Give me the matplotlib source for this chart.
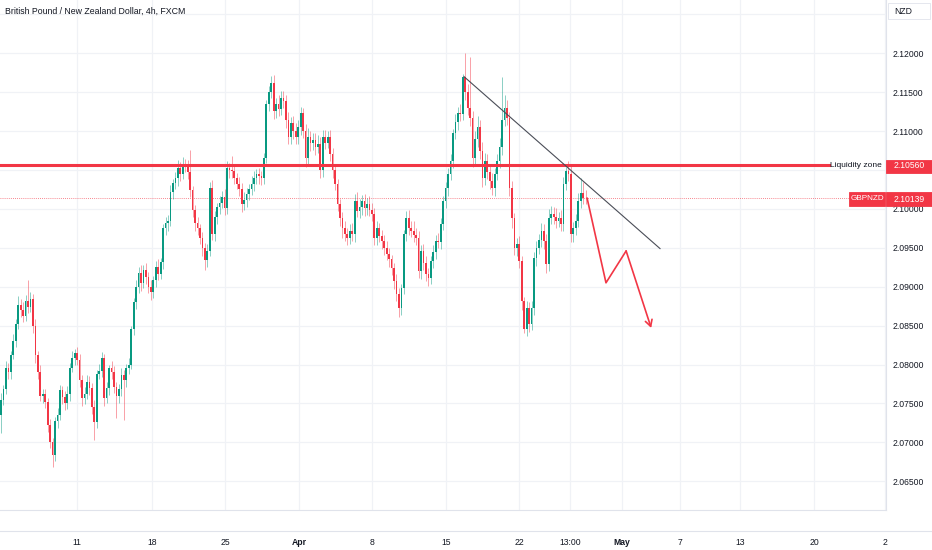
import matplotlib
matplotlib.use("Agg")
import matplotlib.pyplot as plt
from matplotlib.patches import Rectangle
from matplotlib.lines import Line2D

# ---------------- data (GBPNZD, 4h candles) ----------------
closes = [
    2.0755, 2.0768, 2.0795, 2.0790, 2.0812, 2.0830, 2.0852, 2.0876, 2.0870, 2.0862,
    2.0882, 2.0874, 2.0884, 2.0850, 2.0812, 2.0790, 2.0760, 2.0762, 2.0752, 2.0722,
    2.0700, 2.0684, 2.0728, 2.0735, 2.0767, 2.0758, 2.0750, 2.0762, 2.0796, 2.0808,
    2.0815, 2.0806, 2.0780, 2.0757, 2.0762, 2.0778, 2.0770, 2.0745, 2.0726, 2.0788,
    2.0792, 2.0808, 2.0757, 2.0770, 2.0795, 2.0790, 2.0771, 2.0760, 2.0768, 2.0787,
    2.0780, 2.0796, 2.0800, 2.0845, 2.0880, 2.0900, 2.0918, 2.0905, 2.0922, 2.0912,
    2.0900, 2.0893, 2.0908, 2.0925, 2.0916, 2.0932, 2.0975, 2.0982, 2.0985, 2.1022,
    2.1033, 2.1040, 2.1053, 2.1045, 2.1058, 2.1055, 2.1048, 2.1024, 2.0998, 2.0982,
    2.0975, 2.0963, 2.0950, 2.0934, 2.0946, 2.1027, 2.0968, 2.0990, 2.1002, 2.1008,
    2.1015, 2.1001, 2.1052, 2.1050, 2.1049, 2.1040, 2.1032, 2.1026, 2.1006, 2.1012,
    2.1019, 2.1025, 2.1032, 2.1040, 2.1045, 2.1042, 2.1040, 2.1066, 2.1135, 2.1150,
    2.1162, 2.1126, 2.1135, 2.1128, 2.1143, 2.1139, 2.1114, 2.1092, 2.1110, 2.1100,
    2.1092, 2.1105, 2.1123, 2.1100, 2.1066, 2.1092, 2.1085, 2.1088, 2.1080, 2.1084,
    2.1050, 2.1092, 2.1085, 2.1092, 2.1071, 2.1050, 2.1032, 2.1006, 2.0988, 2.0975,
    2.0968, 2.0963, 2.0972, 2.0968, 2.1010, 2.0997, 2.1003, 2.1010, 2.1001, 2.1006,
    2.0999, 2.0994, 2.0963, 2.0976, 2.0965, 2.0959, 2.0950, 2.0942, 2.0935, 2.0924,
    2.0907, 2.0890, 2.0872, 2.0898, 2.0968, 2.0988, 2.0976, 2.0972, 2.0966, 2.0963,
    2.0920, 2.0946, 2.0930, 2.0916, 2.0911, 2.0933, 2.0945, 2.0959, 2.0958, 2.0981,
    2.1010, 2.1027, 2.1045, 2.1062, 2.1097, 2.1112, 2.1123, 2.1122, 2.1169, 2.1150,
    2.1130, 2.1117, 2.1066, 2.1090, 2.1105, 2.1075, 2.1040, 2.1062, 2.1048, 2.1036,
    2.1027, 2.1045, 2.1062, 2.1079, 2.1114, 2.1130, 2.1117, 2.1027, 2.0988, 2.0950,
    2.0955, 2.0933, 2.0881, 2.0845, 2.0872, 2.0852, 2.0872, 2.0937, 2.0950, 2.0960,
    2.0972, 2.0959, 2.0929, 2.0988, 2.0994, 2.0990, 2.0985, 2.0988, 2.0981, 2.1032,
    2.1049, 2.1045, 2.0968, 2.0975, 2.0985, 2.1010, 2.1020, 2.1014, 2.10139,
]
first_open = 2.0735

# wick lengths beyond the body, in pips (0.0001)
upper_wick_pips = [
    8, 6, 10, 7, 5, 9, 6, 12, 8, 10,
    7, 27, 9, 6, 8, 5, 10, 7, 6, 5,
    8, 6, 5, 9, 7, 6, 8, 10, 6, 9,
    5, 8, 7, 6, 9, 8, 7, 6, 10, 5,
    9, 8, 6, 7, 5, 10, 8, 6, 7, 9,
    6, 5, 8, 4, 6, 9, 7, 10, 6, 8,
    7, 9, 6, 8, 10, 5, 6, 8, 7, 9,
    6, 8, 10, 7, 9, 6, 8, 28, 6, 7,
    8, 5, 7, 6, 9, 8, 10, 7, 6, 9,
    8, 10, 9, 7, 18, 8, 6, 9, 7, 10,
    8, 7, 10, 9, 6, 8, 7, 6, 5, 8,
    9, 10, 8, 12, 9, 8, 7, 10, 8, 9,
    10, 9, 8, 7, 9, 12, 8, 10, 9, 11,
    8, 9, 10, 8, 9, 7, 8, 6, 7, 8,
    9, 7, 8, 10, 9, 12, 10, 8, 9, 8,
    10, 8, 7, 9, 6, 8, 7, 9, 8, 6,
    7, 9, 8, 6, 5, 9, 10, 8, 12, 9,
    8, 7, 9, 10, 8, 6, 9, 8, 10, 7,
    6, 8, 7, 9, 6, 10, 8, 12, 5, 32,
    10, 65, 9, 10, 14, 9, 11, 10, 8, 9,
    10, 8, 9, 12, 55, 16, 10, 8, 9, 7,
    8, 10, 7, 6, 9, 8, 10, 7, 9, 8,
    10, 8, 9, 12, 10, 9, 11, 8, 10, 9,
    5, 12, 10, 8, 9, 11, 20, 15, 10,
]
lower_wick_pips = [
    23, 7, 6, 9, 8, 5, 7, 6, 9, 8,
    6, 8, 7, 9, 10, 8, 7, 10, 8, 9,
    7, 16, 8, 10, 6, 9, 8, 7, 9, 6,
    8, 7, 9, 10, 8, 6, 9, 8, 23, 7,
    6, 8, 10, 7, 9, 8, 7, 29, 10, 8,
    51, 9, 8, 6, 7, 9, 8, 10, 7, 9,
    8, 10, 7, 9, 8, 6, 9, 8, 10, 7,
    9, 8, 10, 9, 7, 8, 10, 9, 8, 10,
    9, 8, 10, 13, 9, 7, 8, 9, 10, 8,
    7, 9, 8, 10, 9, 8, 7, 9, 10, 8,
    9, 8, 7, 9, 8, 10, 9, 8, 7, 9,
    8, 10, 9, 8, 7, 9, 10, 8, 9, 10,
    9, 8, 10, 9, 12, 8, 10, 9, 11, 8,
    10, 9, 8, 7, 9, 10, 8, 9, 10, 12,
    9, 10, 8, 9, 10, 8, 9, 11, 10, 9,
    8, 9, 10, 9, 8, 10, 9, 8, 10, 9,
    10, 9, 11, 9, 8, 9, 10, 8, 9, 10,
    9, 10, 8, 9, 10, 8, 9, 10, 8, 9,
    8, 9, 10, 8, 9, 7, 10, 9, 8, 10,
    9, 10, 12, 9, 10, 11, 12, 9, 10, 11,
    9, 10, 8, 9, 10, 8, 9, 10, 12, 9,
    10, 9, 11, 5, 9, 10, 8, 9, 10, 8,
    9, 10, 12, 9, 8, 10, 9, 8, 10, 9,
    8, 9, 11, 10, 9, 8, 9, 8, 7,
]

price_ticks = [2.125, 2.120, 2.115, 2.110, 2.105, 2.100, 2.095, 2.090,
               2.085, 2.080, 2.075, 2.070, 2.065]
price_labels = ["", "2.12000", "2.11500", "2.11000", "", "2.10000",
                "2.09500", "2.09000", "2.08500", "2.08000", "2.07500",
                "2.07000", "2.06500"]
date_ticks = [31.0, 61.5, 91.2, 121.3, 151.1, 181.2, 210.9, 231.7,
              252.9, 276.5, 300.9, 331.0, 359.9]
date_labels = ["11", "18", "25", "Apr", "8", "15", "22", "13:00",
               "May", "7", "13", "20", "2"]

liquidity_level = 2.1056
last_price = 2.10139
trend_x = [188.5, 268.3]
trend_y = [2.1170, 2.0949]
path_x = [238.6, 246.3, 254.5, 264.7]
path_y = [2.1014, 2.0905, 2.0946, 2.0847]

title = "British Pound / New Zealand Dollar, 4h, FXCM"

# ---------------- derived OHLC ----------------
opens = [first_open] + closes[:-1]
highs = [max(o, c) + u * 1e-4 for o, c, u in zip(opens, closes, upper_wick_pips)]
lows = [min(o, c) - l * 1e-4 for o, c, l in zip(opens, closes, lower_wick_pips)]

UP = "#089981"
DN = "#f23645"
TXT = "#131722"
GRID = "#f0f2f6"
BORDER = "#e0e3eb"

plt.rcParams["font.family"] = ["Liberation Sans", "DejaVu Sans"]

W, H = 932, 550
fig = plt.figure(figsize=(W / 100, H / 100), dpi=100)
fig.patch.set_facecolor("white")
# chart pane: x 0..886 px, y 0..510 px
ax = fig.add_axes([0, 40 / H, 886 / W, 510 / H])

n = len(closes)
xs = list(range(n))
cols = [UP if c >= o else DN for o, c in zip(opens, closes)]

ax.vlines(xs, lows, highs, colors=cols, linewidth=0.6, alpha=0.55, zorder=3)
bottoms = [min(o, c) for o, c in zip(opens, closes)]
heights = [max(abs(c - o), 0.00006) for o, c in zip(opens, closes)]
ax.bar(xs, heights, bottom=bottoms, width=0.7, color=cols, linewidth=0, zorder=4)

ax.set_xlim(-0.41, 360.3)
ax.set_ylim(2.06130, 2.12685)

ax.set_yticks(price_ticks)
ax.set_yticklabels(price_labels)
ax.set_xticks(date_ticks)
ax.set_xticklabels(date_labels)
ax.grid(True, color=GRID, linewidth=0.9, zorder=0)
ax.set_axisbelow(True)
ax.yaxis.tick_right()
ax.tick_params(axis="y", length=0, pad=4.5, labelsize=6.2, labelcolor=TXT)
ax.tick_params(axis="x", length=0, pad=20.5, labelsize=6.2, labelcolor=TXT)
for lbl in ax.get_xticklabels():
    if lbl.get_text() in ("Apr", "May"):
        lbl.set_fontweight("bold")
for s in ("top", "left"):
    ax.spines[s].set_visible(False)
for s in ("right", "bottom"):
    ax.spines[s].set_color(BORDER)
    ax.spines[s].set_linewidth(0.8)

# liquidity zone line
ax.axhline(liquidity_level, xmin=0, xmax=829 / 886, color=DN, linewidth=2.2, zorder=5)
# last price dotted line
ax.axhline(last_price, xmin=0, xmax=1, color=DN, linewidth=0.6,
           linestyle=(0, (1, 1.5)), alpha=0.8, zorder=2)

# trendline
ax.plot(trend_x, trend_y, color="#4a4d57", linewidth=0.8, zorder=6)

# projected path arrow
ax.plot(path_x[:-1], path_y[:-1], color=DN, linewidth=1.2, zorder=6,
        solid_capstyle="round", solid_joinstyle="round")
ax.annotate("", xy=(path_x[-1], path_y[-1]), xytext=(path_x[-2], path_y[-2]),
            arrowprops=dict(arrowstyle="->,head_length=0.45,head_width=0.25",
                            color=DN, linewidth=1.2, shrinkA=0, shrinkB=0),
            zorder=6)

# ---------------- overlays in pixel coordinates ----------------
def fx(px):
    return px / W

def fy(py):
    return 1 - py / H

def box(x0, y0, x1, y1, fc, ec=None):
    r = Rectangle((fx(x0), fy(y1)), (x1 - x0) / W, (y1 - y0) / H,
                  transform=fig.transFigure, facecolor=fc,
                  edgecolor=ec if ec else fc, linewidth=0.6, zorder=10)
    fig.patches.append(r)

# time-axis separator line
fig.lines.append(Line2D([0, 1], [fy(531), fy(531)], transform=fig.transFigure,
                        color=BORDER, linewidth=0.8))

fig.text(fx(5), fy(11), title, fontsize=6.3, color=TXT, va="center", ha="left")

box(888, 3, 930, 19, "white", BORDER)
fig.text(fx(894), fy(11), "NZD", fontsize=6.2, color=TXT, va="center", ha="left", zorder=11)

fig.text(fx(882), fy(166), "Liquidity zone", fontsize=6.0, color=TXT,
         va="center", ha="right", zorder=11)
box(886, 159.5, 932, 172.5, DN)
fig.text(fx(909), fy(166), "2.10560", fontsize=6.2, color="white",
         va="center", ha="center", zorder=11)

box(849, 192.5, 885, 205.5, DN)
fig.text(fx(867), fy(199), "GBPNZD", fontsize=5.9, color="white",
         va="center", ha="center", zorder=11)
box(886, 192.5, 932, 205.5, DN)
fig.text(fx(909), fy(199), "2.10139", fontsize=6.2, color="white",
         va="center", ha="center", zorder=11)

fig.savefig("out.png", dpi=100, facecolor="white")
